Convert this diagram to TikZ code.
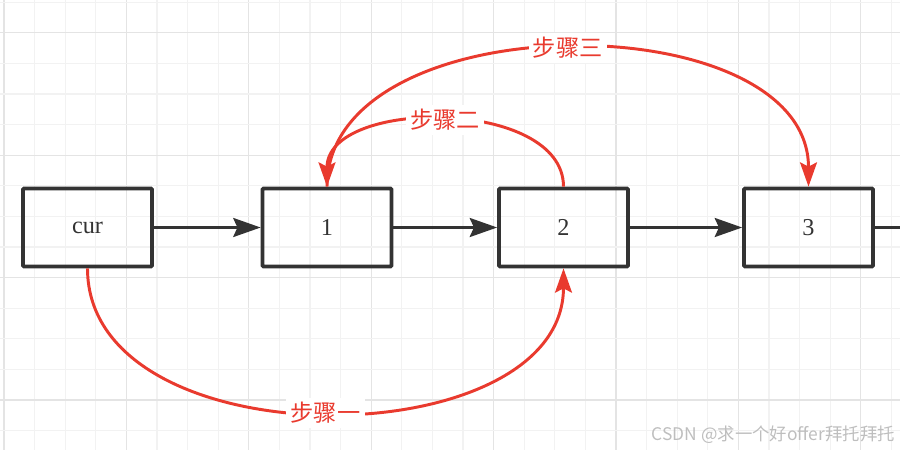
\documentclass[tikz,border=0pt]{standalone}
\usepackage{fontspec}
\setmainfont{Liberation Serif}
\newfontfamily\cjk{Noto Sans CJK SC}
\usetikzlibrary{arrows.meta,positioning}
\definecolor{boxGray}{RGB}{51,51,51}
\definecolor{stepRed}{RGB}{233,58,46}
\definecolor{gridMinor}{RGB}{242,242,242}
\definecolor{gridMajor}{RGB}{228,228,228}
\definecolor{markGray}{RGB}{190,190,190}
\tikzset{
  listnode/.style={draw=boxGray,line width=3.5pt,rounded corners=1pt,minimum width=4.3cm,
                   minimum height=2.6cm,text=boxGray,font=\fontsize{23}{26}\selectfont},
  nxt/.style={-{Stealth[length=26,width=18,inset=4]},line width=2.8pt,draw=boxGray},
  tail/.style={line width=2.8pt,draw=boxGray},
  stepline/.style={-{Stealth[length=23,width=16,inset=4]},line width=2.8pt,draw=stepRed},
  steplabel/.style={fill=white,text=stepRed,inner sep=4pt,
                    font=\cjk\fontsize{22}{24}\selectfont},
}

\begin{document}
\begin{tikzpicture}[x=1cm/30,y=-1cm/30]
    \useasboundingbox (0,0) rectangle (900,450);
    % grid
    \foreach \k in {0,...,29}{
      \pgfmathtruncatemacro{\maj}{mod(\k,4)==0}
      \ifnum\maj=1 \def\gc{gridMajor}\else\def\gc{gridMinor}\fi
      \draw[\gc,line width=1pt] ({4+30.6*\k},0) -- ({4+30.6*\k},450);
    }
    \foreach \k in {0,...,14}{
      \pgfmathtruncatemacro{\maj}{mod(\k+3,4)==0}
      \ifnum\maj=1 \def\gc{gridMajor}\else\def\gc{gridMinor}\fi
      \draw[\gc,line width=1pt] (0,{2.2+30.6*\k}) -- (900,{2.2+30.6*\k});
    }
    % list nodes
    \node[listnode] (cur) at (87.5,227.5){cur};
    \node[listnode] (n1) at (327,227.5){1};
    \node[listnode] (n2) at (563.5,227.5){2};
    \node[listnode] (n3) at (808.5,227.5){3};
    \coordinate (end) at (900,227.5);
    \draw[nxt] (cur) -- (n1);
    \draw[nxt] (n1) -- (n2);
    \draw[nxt] (n2) -- (n3);
    \draw[tail] (n3) -- (end);
    % steps
    \draw[stepline] (cur.south) .. controls +(0,195) and +(0,190) .. (n2.south)
      node[steplabel,pos=0.5]{步骤一};
    \draw[stepline] (n2.north) .. controls +(0,-89) and +(0,-89) .. (n1.north)
      node[steplabel,pos=0.5]{步骤二};
    \draw[stepline] (n1.north) .. controls +(0,-185) and +(0,-185) .. (n3.north)
      node[steplabel,pos=0.5]{步骤三};
    \node[text=markGray,anchor=east,inner sep=0pt,font=\cjk\fontsize{16.5}{18}\selectfont]
      (mark) at (895,435){CSDN @求一个好offer拜托拜托};
  \end{tikzpicture}
\end{document}
